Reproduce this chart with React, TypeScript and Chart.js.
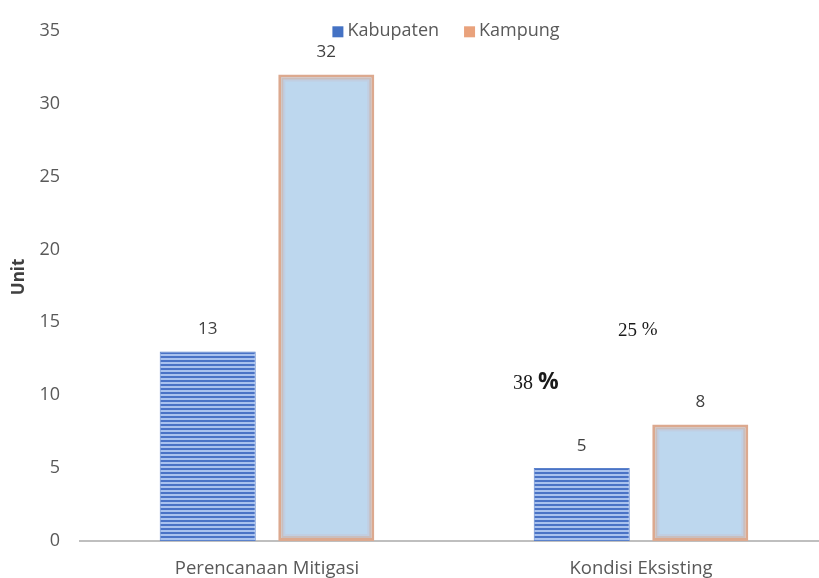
import React, { useEffect, useRef } from 'react';
import { Chart, registerables } from 'chart.js';

Chart.register(...registerables);

const categories = ['Perencanaan Mitigasi', 'Kondisi Eksisting'];
const seriesNames = ['Kabupaten', 'Kampung'];
const kabupatenValues = [13, 5];
const kampungValues = [32, 8];
const yMin = 0;
const yMax = 35;
const yStep = 5;
const yTitle = 'Unit';
const percentMain = ['38', '25'];
const percentSign = ['%', '%'];

const SANS = '"Open Sans", "Noto Sans", sans-serif';
const SERIF = '"Liberation Serif", "DejaVu Serif", serif';

function stripePattern(): CanvasPattern | string {
  const c = document.createElement('canvas');
  c.width = 4;
  c.height = 4;
  const g = c.getContext('2d');
  if (!g) return '#4472c4';
  g.fillStyle = '#a9c2ee';
  g.fillRect(0, 0, 4, 4);
  g.fillStyle = '#4a73c6';
  g.fillRect(0, 0, 4, 2);
  return g.createPattern(c, 'repeat') || '#4472c4';
}

const legendColors = ['#4472c4', '#e9a27c'];

const innerGlowPlugin = {
  id: 'innerGlow',
  afterDatasetsDraw(chart: any) {
    const ctx = chart.ctx;
    const meta = chart.getDatasetMeta(1);
    ctx.save();
    meta.data.forEach((el: any) => {
      const w = el.width;
      const left = el.x - w / 2;
      const top = el.y;
      const h = el.base - el.y;
      ctx.lineWidth = 2;
      ctx.strokeStyle = 'rgba(214,170,150,0.55)';
      ctx.strokeRect(left + 4, top + 4, w - 8, h - 8);
      ctx.strokeStyle = 'rgba(200,190,200,0.35)';
      ctx.strokeRect(left + 6, top + 6, w - 12, h - 12);
    });
    ctx.restore();
  },
};

const valueLabelPlugin = {
  id: 'valueLabels',
  afterDatasetsDraw(chart: any) {
    const ctx = chart.ctx;
    ctx.save();
    ctx.font = `17px ${SANS}`;
    ctx.fillStyle = '#404040';
    ctx.textAlign = 'center';
    ctx.textBaseline = 'middle';
    chart.data.datasets.forEach((ds: any, di: number) => {
      const meta = chart.getDatasetMeta(di);
      meta.data.forEach((el: any, i: number) => {
        ctx.fillText(String(ds.data[i]), el.x, el.y - 22);
      });
    });
    ctx.restore();
  },
};

const legendPlugin = {
  id: 'customLegend',
  afterDraw(chart: any) {
    const ctx = chart.ctx;
    const area = chart.chartArea;
    ctx.save();
    ctx.font = `18px ${SANS}`;
    ctx.textBaseline = 'middle';
    const box = 11;
    const gap = 4;
    const itemGap = 25;
    const widths = seriesNames.map((n) => ctx.measureText(n).width);
    const total = widths.reduce((a, w) => a + box + gap + w, 0) + itemGap * (seriesNames.length - 1);
    let x = (area.left + area.right) / 2 - 8 - total / 2;
    const y = area.top;
    seriesNames.forEach((n, i) => {
      ctx.fillStyle = legendColors[i];
      ctx.fillRect(x, y - box / 2 + 1, box, box);
      x += box + gap;
      ctx.fillStyle = '#595959';
      ctx.fillText(n, x, y);
      x += widths[i] + itemGap;
    });
    ctx.restore();
  },
};

const yTitlePlugin = {
  id: 'yTitle',
  afterDraw(chart: any) {
    const ctx = chart.ctx;
    const area = chart.chartArea;
    ctx.save();
    ctx.translate(19, (area.top + area.bottom) / 2 - 9);
    ctx.rotate(-Math.PI / 2);
    ctx.font = `bold 17px ${SANS}`;
    ctx.fillStyle = '#404040';
    ctx.textAlign = 'center';
    ctx.textBaseline = 'middle';
    ctx.fillText(yTitle, 0, 0);
    ctx.restore();
  },
};

const notePlugin = {
  id: 'percentNotes',
  afterDraw(chart: any) {
    const ctx = chart.ctx;
    const xs = chart.scales.x;
    const ys = chart.scales.y;
    const anchors = [
      { dx: -128, v: 10.8, mainFont: `20px ${SERIF}`, signFont: `bold 23px ${SANS}` },
      { dx: -23, v: 14.4, mainFont: `19px ${SERIF}`, signFont: `19px ${SERIF}` },
    ];
    ctx.save();
    ctx.fillStyle = '#1a1a1a';
    ctx.textBaseline = 'middle';
    ctx.textAlign = 'left';
    anchors.forEach((a, i) => {
      let x = xs.getPixelForValue(1) + a.dx;
      const y = ys.getPixelForValue(a.v);
      ctx.font = a.mainFont;
      const t = percentMain[i] + ' ';
      ctx.fillText(t, x, y);
      x += ctx.measureText(t).width;
      ctx.font = a.signFont;
      ctx.fillText(percentSign[i], x, y - 1);
    });
    ctx.restore();
  },
};

export default function App() {
  const ref = useRef<HTMLCanvasElement | null>(null);

  useEffect(() => {
    const canvas = ref.current;
    if (!canvas) return;
    const chart = new Chart(canvas, {
      type: 'bar',
      data: {
        labels: categories,
        datasets: [
          {
            label: seriesNames[0],
            data: kabupatenValues,
            backgroundColor: stripePattern() as any,
            borderColor: '#5b82cc',
            borderWidth: 1,
            borderSkipped: false,
            categoryPercentage: 0.634,
            barPercentage: 0.81,
          },
          {
            label: seriesNames[1],
            data: kampungValues,
            backgroundColor: '#bdd7ee',
            borderColor: '#dca98f',
            borderWidth: 3,
            borderSkipped: false,
            categoryPercentage: 0.634,
            barPercentage: 0.81,
          },
        ],
      },
      options: {
        responsive: false,
        animation: false,
        devicePixelRatio: 1,
        layout: { padding: { top: 22, right: 0, bottom: 0, left: 0 } },
        plugins: {
          legend: { display: false },
          tooltip: { enabled: false },
        },
        scales: {
          x: {
            grid: { display: false, drawTicks: false },
            border: { display: true, color: '#bfbfbf', width: 2 },
            ticks: {
              color: '#595959',
              font: { family: SANS, size: 18.5 },
              padding: 17,
            },
            afterFit(scale: any) {
              scale.height = 37;
            },
          },
          y: {
            min: yMin,
            max: yMax,
            grid: { display: false, drawTicks: false },
            border: { display: false },
            ticks: {
              stepSize: yStep,
              color: '#595959',
              font: { family: SANS, size: 18 },
              padding: 20,
            },
            afterFit(scale: any) {
              scale.width = 80;
            },
          },
        },
      },
      plugins: [innerGlowPlugin, valueLabelPlugin, legendPlugin, yTitlePlugin, notePlugin],
    } as any);
    return () => chart.destroy();
  }, []);

  return (
    <div
      style={{
        position: 'fixed',
        left: 0,
        top: 0,
        width: 819,
        height: 578,
        overflow: 'hidden',
        background: '#ffffff',
      }}
    >
      <canvas ref={ref} width={828} height={578} style={{ display: 'block' }} />
    </div>
  );
}
